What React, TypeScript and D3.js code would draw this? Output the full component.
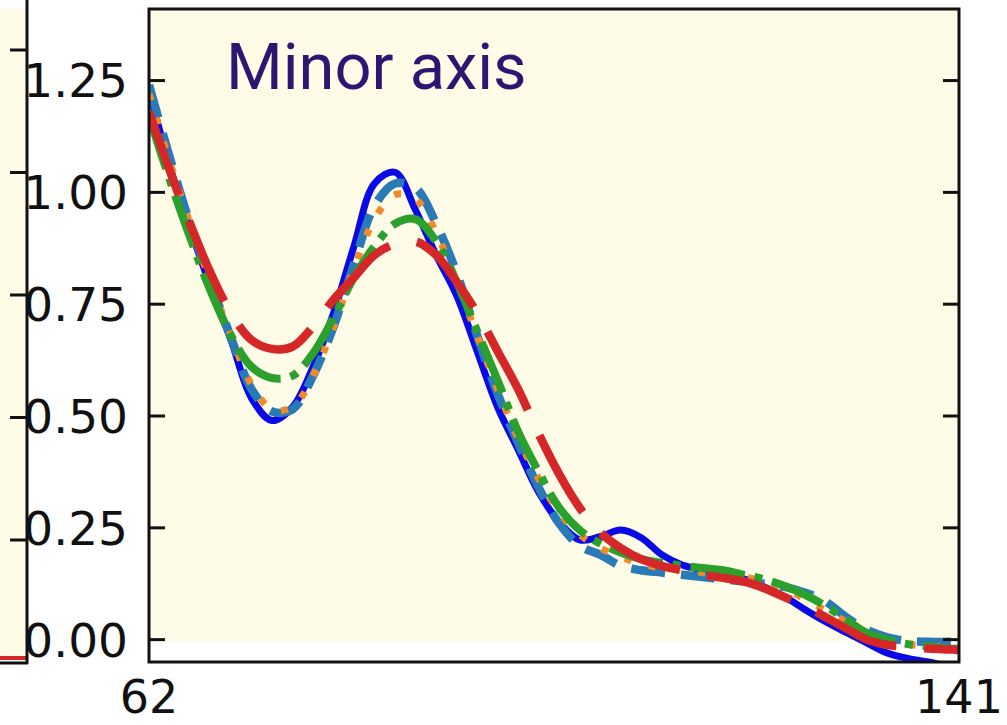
import React, { useEffect, useRef } from 'react'
import * as d3 from 'd3'

// x positions (pixel along the minor axis)
const xs = [62, 64, 66, 68, 70, 72, 74, 76, 78, 80, 82, 84, 86, 88, 90, 92, 94, 96, 98, 100, 102, 104, 106, 108, 110, 112, 114, 116, 118, 120, 122, 124, 126, 128, 130, 132, 134, 136, 138, 140, 141]

const blueSolid = [1.23, 1.06, 0.92, 0.79, 0.67, 0.54, 0.49, 0.52, 0.61, 0.73, 0.88, 1.02, 1.045, 0.96, 0.86, 0.77, 0.645, 0.52, 0.425, 0.33, 0.263, 0.223, 0.23, 0.245, 0.228, 0.19, 0.167, 0.156, 0.147, 0.136, 0.118, 0.096, 0.067, 0.04, 0.016, -0.007, -0.03, -0.042, -0.05, -0.06, -0.065]
const tabBlue = [1.24, 1.08, 0.93, 0.8, 0.675, 0.56, 0.51, 0.515, 0.59, 0.7, 0.84, 0.97, 1.02, 1.01, 0.93, 0.82, 0.68, 0.55, 0.44, 0.34, 0.26, 0.21, 0.19, 0.165, 0.155, 0.15, 0.145, 0.14, 0.135, 0.13, 0.125, 0.118, 0.105, 0.085, 0.05, 0.022, 0.005, -0.003, -0.005, -0.005, -0.005]
const orange = [1.22, 1.07, 0.93, 0.8, 0.68, 0.57, 0.515, 0.52, 0.59, 0.7, 0.83, 0.94, 0.995, 0.985, 0.91, 0.8, 0.68, 0.56, 0.45, 0.36, 0.285, 0.235, 0.205, 0.185, 0.17, 0.16, 0.155, 0.15, 0.145, 0.14, 0.13, 0.115, 0.09, 0.065, 0.04, 0.015, 0.0, -0.01, -0.015, -0.015, -0.015]
const green = [1.17, 1.03, 0.9, 0.78, 0.68, 0.61, 0.585, 0.59, 0.64, 0.72, 0.81, 0.88, 0.93, 0.94, 0.89, 0.8, 0.69, 0.58, 0.465, 0.375, 0.295, 0.245, 0.215, 0.195, 0.18, 0.172, 0.165, 0.16, 0.155, 0.145, 0.135, 0.12, 0.1, 0.075, 0.045, 0.015, 0.0, -0.01, -0.015, -0.02, -0.02]
const red = [1.18, 1.05, 0.93, 0.82, 0.73, 0.67, 0.65, 0.655, 0.7, 0.76, 0.81, 0.86, 0.885, 0.89, 0.86, 0.8, 0.73, 0.645, 0.56, 0.46, 0.37, 0.295, 0.24, 0.205, 0.18, 0.165, 0.155, 0.145, 0.138, 0.13, 0.115, 0.095, 0.075, 0.05, 0.025, 0.0, -0.012, -0.016, -0.02, -0.022, -0.023]

const yTicks = [0, 0.25, 0.5, 0.75, 1.0, 1.25]
const xTickLabels = [62, 141]
const title = 'Minor axis'

const series = [
  { values: blueSolid, color: '#0a0ae6', width: 7, dash: null },
  { values: tabBlue, color: '#2a7ab8', width: 8.5, dash: '34 16' },
  { values: orange, color: '#f08a2c', width: 7, dash: '7 18' },
  { values: green, color: '#2ca02c', width: 8, dash: '55 10 8 10' },
  { values: red, color: '#d62728', width: 8.5, dash: '88 28' },
]

const App = () => {
  const ref = useRef<SVGSVGElement>(null)

  useEffect(() => {
    const W = 1007
    const H = 725
    const margin = { top: 9, right: 48, bottom: 63, left: 149 }
    const width = W - margin.left - margin.right
    const height = H - margin.top - margin.bottom
    const bg = '#fefbe6'

    const root = d3.select(ref.current).attr('width', W).attr('height', H)
    root.selectAll('*').remove()

    // neighbouring panel, only its right edge is visible
    const left = root.append('g')
    left.append('rect').attr('x', 0).attr('y', 9).attr('width', 27).attr('height', 648).attr('fill', bg)
    left.append('line').attr('x1', 0).attr('x2', 27).attr('y1', 658).attr('y2', 658).attr('stroke', '#d62728').attr('stroke-width', 4)
    left.append('line').attr('x1', 27).attr('x2', 27).attr('y1', 0).attr('y2', 664).attr('stroke', '#111').attr('stroke-width', 3)
    left.append('line').attr('x1', 0).attr('x2', 28).attr('y1', 663).attr('y2', 663).attr('stroke', '#111').attr('stroke-width', 3)
    d3.range(5).forEach((i) => {
      const ty = 50 + i * 122.5
      left.append('line').attr('x1', 10).attr('x2', 27).attr('y1', ty).attr('y2', ty).attr('stroke', '#111').attr('stroke-width', 3)
    })

    const svg = root.append('g').attr('transform', `translate(${margin.left},${margin.top})`)

    const x = d3.scaleLinear().domain([62, 141]).range([0, width])
    const y = d3.scaleLinear().domain([-0.05, 1.41]).range([height, 0])

    svg.append('rect').attr('x', 0).attr('y', 0).attr('width', width).attr('height', y(-0.004)).attr('fill', bg)

    svg.append('defs').append('clipPath').attr('id', 'plot-clip')
      .append('rect').attr('width', width).attr('height', height)

    const line = d3.line<number>()
      .x((_, i) => x(xs[i]))
      .y((d) => y(d))
      .curve(d3.curveCatmullRom.alpha(0.5))

    const lines = svg.append('g').attr('clip-path', 'url(#plot-clip)')
    series.forEach((s) => {
      lines.append('path')
        .attr('d', line(s.values))
        .attr('fill', 'none')
        .attr('stroke', s.color)
        .attr('stroke-width', s.width)
        .attr('stroke-dasharray', s.dash)
        .attr('stroke-linejoin', 'round')
    })

    svg.append('text')
      .attr('x', 77)
      .attr('y', 80)
      .attr('font-family', 'Roboto, sans-serif')
      .attr('font-size', 65)
      .attr('fill', '#2d1572')
      .text(title)

    // y ticks, inward on both sides
    yTicks.forEach((t) => {
      const ty = y(t)
      svg.append('line').attr('x1', 0).attr('x2', 16).attr('y1', ty).attr('y2', ty).attr('stroke', '#111').attr('stroke-width', 3)
      svg.append('line').attr('x1', width - 16).attr('x2', width).attr('y1', ty).attr('y2', ty).attr('stroke', '#111').attr('stroke-width', 3)
      svg.append('text')
        .attr('x', -21)
        .attr('y', ty)
        .attr('dy', '0.36em')
        .attr('text-anchor', 'end')
        .attr('font-family', 'DejaVu Sans, sans-serif')
        .attr('font-size', 47)
        .attr('fill', '#111')
        .text(d3.format('.2f')(t))
    })

    xTickLabels.forEach((t) => {
      svg.append('text')
        .attr('x', x(t))
        .attr('y', height + 51)
        .attr('text-anchor', 'middle')
        .attr('font-family', 'DejaVu Sans, sans-serif')
        .attr('font-size', 46)
        .attr('fill', '#111')
        .text(t)
    })

    svg.append('rect')
      .attr('width', width)
      .attr('height', height)
      .attr('fill', 'none')
      .attr('stroke', '#111')
      .attr('stroke-width', 3)
  }, [])

  return <svg ref={ref} style={{ position: 'absolute', left: 0, top: 0 }}></svg>
}

export default App
